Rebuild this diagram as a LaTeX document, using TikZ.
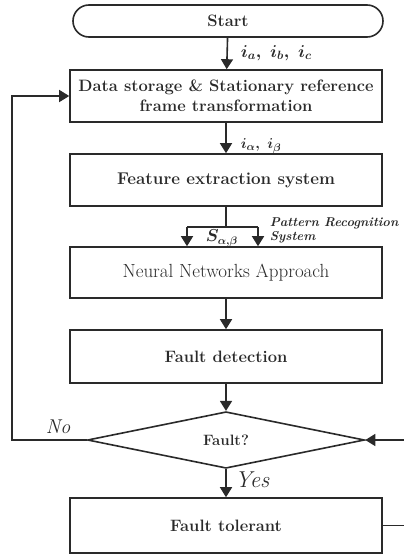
\documentclass[tikz,border=0pt]{standalone}
\usetikzlibrary{shapes.geometric,arrows.meta}
\definecolor{ink}{HTML}{2A2A2A}
\begin{document}
\begin{tikzpicture}[x=1pt,y=-1pt,
  line width=1.6pt, draw=ink,
  arr/.style={-{Triangle[width=12pt,length=10pt]}},
  stepbox/.style={draw=ink, rectangle, minimum width=312pt, align=center,
    font=\fontsize{16.5}{20}\selectfont\bfseries, text=ink},
  termbox/.style={stepbox, rounded corners=16pt},
  decbox/.style={draw=ink, diamond, minimum width=277pt, minimum height=50pt,
    inner sep=0pt, font=\fontsize{15}{17}\selectfont\bfseries, text=ink},
  sig/.style={font=\fontsize{18}{20}\selectfont\boldmath, text=ink, anchor=west, inner sep=0pt},
  tag/.style={font=\fontsize{20}{22}\selectfont\itshape, text=ink, inner sep=0pt}
]
\useasboundingbox (0,0) rectangle (404,554);

% process chain
\node[termbox, minimum height=32pt, minimum width=310pt] (start) at (228,21) {Start};
\node[stepbox, minimum height=52pt] (store) at (226,96)
  {Data storage \& Stationary reference\\frame transformation};
\node[stepbox, minimum height=52pt, font=\fontsize{17}{20}\selectfont\bfseries] (feat) at (226,180) {Feature extraction system};
\node[stepbox, minimum height=51pt, font=\fontsize{19}{22}\selectfont] (nn) at (226,272.5) {Neural Networks Approach};
\node[stepbox, minimum height=53pt] (det) at (226,356.5) {Fault detection};
\node[decbox] (fault) at (226,440) {Fault?};
\node[stepbox, minimum height=55pt] (tol) at (226,525.5) {Fault tolerant};

% signal labels
\node[sig] (iabc) at (240,53) {$i_a,\ i_b,\ i_c$};
\node[sig, font=\fontsize{15}{17}\selectfont\boldmath] (ialb) at (240,146) {$i_\alpha,\ i_\beta$};
\node[sig, font=\fontsize{16}{18}\selectfont\boldmath] (sab) at (205,238) {$S_{\alpha,\beta}$};
\node[tag, anchor=west, font=\fontsize{12.8}{15}\selectfont\bfseries\itshape] (prs1) at (269,223) {Pattern Recognition};
\node[tag, anchor=west, font=\fontsize{12.8}{15}\selectfont\bfseries\itshape] (prs2) at (269,237) {System};
\node[tag, anchor=west] (no) at (45,427) {No};
\node[tag, anchor=west, font=\fontsize{23}{25}\selectfont\itshape] (yes) at (234,480) {Yes};

% connectors
\coordinate (split) at (226,227);
\coordinate (sl) at (187,227);
\coordinate (sr) at (258,227);
\coordinate (lft) at (12,440);
\coordinate (rgt) at (412,525.5);

\draw[arr] (start) -- (store);
\draw[arr] (store) -- (feat);
\draw (feat) -- (split);
\draw (sl) -- (sr);
\draw[arr] (sl) -- (sl |- nn.north);
\draw[arr] (sr) -- (sr |- nn.north);
\draw[arr] (nn) -- (det);
\draw[arr] (det) -- (fault);
\draw[arr] (fault) -- (tol);
\draw[arr] (fault.west) -- (lft) |- (store.west);
\draw[arr] (tol.east) -- (rgt) |- (fault.east);
\end{tikzpicture}
\end{document}
